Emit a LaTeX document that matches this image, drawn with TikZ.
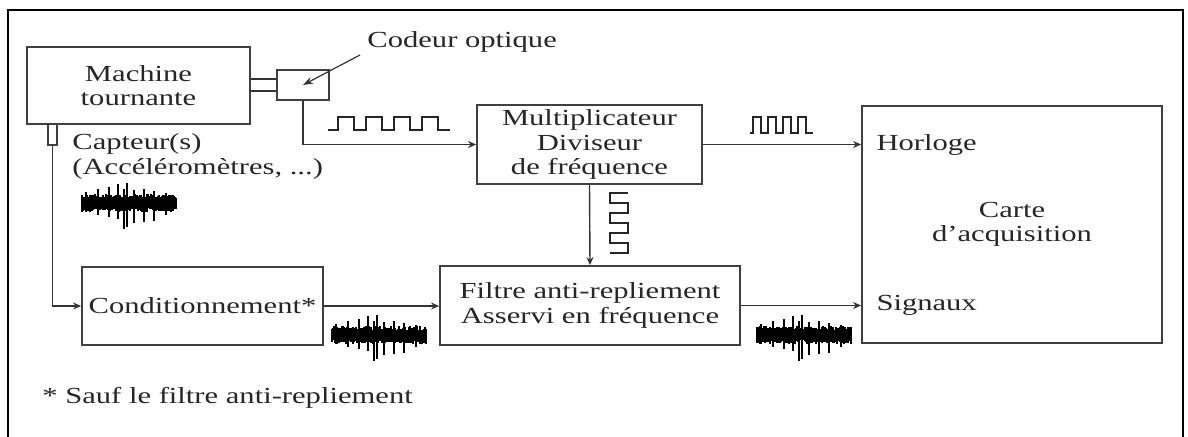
\documentclass[tikz,border=0pt]{standalone}
\usepackage{fontspec}
\setmainfont[FakeStretch=1.33]{Liberation Serif}
\usetikzlibrary{arrows.meta, positioning}

\begin{document}
\begin{tikzpicture}[
  x=0.5pt, y=-0.5pt,
  font=\fontsize{11.5}{12.25}\selectfont,
  box/.style={rectangle, draw=black!75, line width=0.9pt, align=center,
              inner sep=0pt, text=black!85},
  lbl/.style={inner sep=0pt, align=left, text=black!85},
  arr/.style={-{Stealth[length=4pt, width=3.5pt]}, line width=0.7pt, black!80},
  wire/.style={line width=0.7pt, black!80},
  wave/.style={line width=0.9pt, black!85},
  noise/.pic={
    \foreach \i in {0,...,94} {
      \pgfmathsetmacro\up{5+4*rnd}
      \pgfmathsetmacro\dn{5+4*rnd}
      \draw[line width=0.8pt] (\i,-\up) -- (\i,\dn);
    }
    \foreach \i/\u/\d in {4/11/9, 16/14/12, 27/16/14, 36/19/16,
                          42/14/26, 45/20/24, 52/13/20, 62/14/19,
                          72/12/18, 84/10/12} {
      \draw[line width=0.8pt] (\i,-\u) -- (\i,\d);
    }
  },
]
\pgfmathsetseed{11}
\useasboundingbox (0,0) rectangle (1188,436);

%% outer frame
\draw[line width=1.2pt] (8,440) -- (8,10) -- (1183,10) -- (1183,440);

%% ---- top row ----
\node[box, minimum width=111.5pt, minimum height=38.5pt] (mach) at (138.5,85.5)
  {Machine\\tournante};
\node[box, minimum width=26pt, minimum height=15pt] (cod) at (303,85) {};
\node[lbl, anchor=west] (codtxt) at (367,42) {Codeur optique};
\node[box, minimum width=4.5pt, minimum height=10.5pt] (capt) at (52.5,134.5) {};
\node[lbl, anchor=west] (capttxt) at (72,156.5)
  {Capteur(s)\\(Accéléromètres, ...)};
\node[box, minimum width=112.5pt, minimum height=39.5pt] (mult) at (589.5,144.5)
  {Multiplicateur\\Diviseur\\de fréquence};
\node[box, minimum width=150pt, minimum height=118.5pt] (carte) at (1012,224.5)
  {Carte\\d'acquisition};

%% ---- bottom row ----
\node[box, minimum width=120.5pt, minimum height=39pt] (cond) at (202.5,306)
  {Conditionnement*};
\node[box, minimum width=150pt, minimum height=39.5pt] (filt) at (590,305.5)
  {Filtre anti-repliement\\Asservi en fréquence};

\coordinate (cin1) at (mult.east -| carte.west);
\coordinate (cin2) at (filt.east -| carte.west);
\node[lbl, right=7.5pt of cin1] (horl) {Horloge};
\node[lbl, right=7.5pt of cin2] (sigx) {Signaux};

\node[lbl, anchor=west] (note) at (42,398) {* Sauf le filtre anti-repliement};

%% connectors
\draw[wire] ([yshift=3pt]cod.west) -- ([yshift=3pt]cod.west -| mach.east);
\draw[wire] ([yshift=-3pt]cod.west) -- ([yshift=-3pt]cod.west -| mach.east);
\draw[-{Stealth[length=5pt, width=3.5pt]}, line width=0.6pt, black!80]
  ([xshift=-3.5pt, yshift=-6.5pt]codtxt.west) -- (cod.center);
\draw[arr] (cod.south) |- (mult.west);
\draw[arr] (mult.east) -- (cin1);
\draw[arr] (mult.south) -- (filt.north);
\draw[arr] (capt.south) |- (cond.west);
\draw[arr] (cond.east) -- (cond.east -| filt.west);
\draw[arr] (filt.east) -- (cin2);

%% square waves
\draw[wave] (328,130) -- ++(10,0)
  foreach \k in {1,...,4} { -- ++(0,-13) -- ++(16,0) -- ++(0,13) -- ++(12,0) };
\draw[wave] (750,133) -- ++(3,0)
  foreach \k in {1,...,4} { -- ++(0,-16) -- ++(8,0) -- ++(0,16) -- ++(7,0) };
\draw[wave] (628,193) -- ++(-18,0)
  foreach \k in {1,...,3} { -- ++(0,10) -- ++(18,0) -- ++(0,10) -- ++(-18,0) };

%% vibration signals
\pic at (82,203) {noise};
\pic at (332,335) {noise};
\pic at (757,335) {noise};

\end{tikzpicture}
\end{document}
